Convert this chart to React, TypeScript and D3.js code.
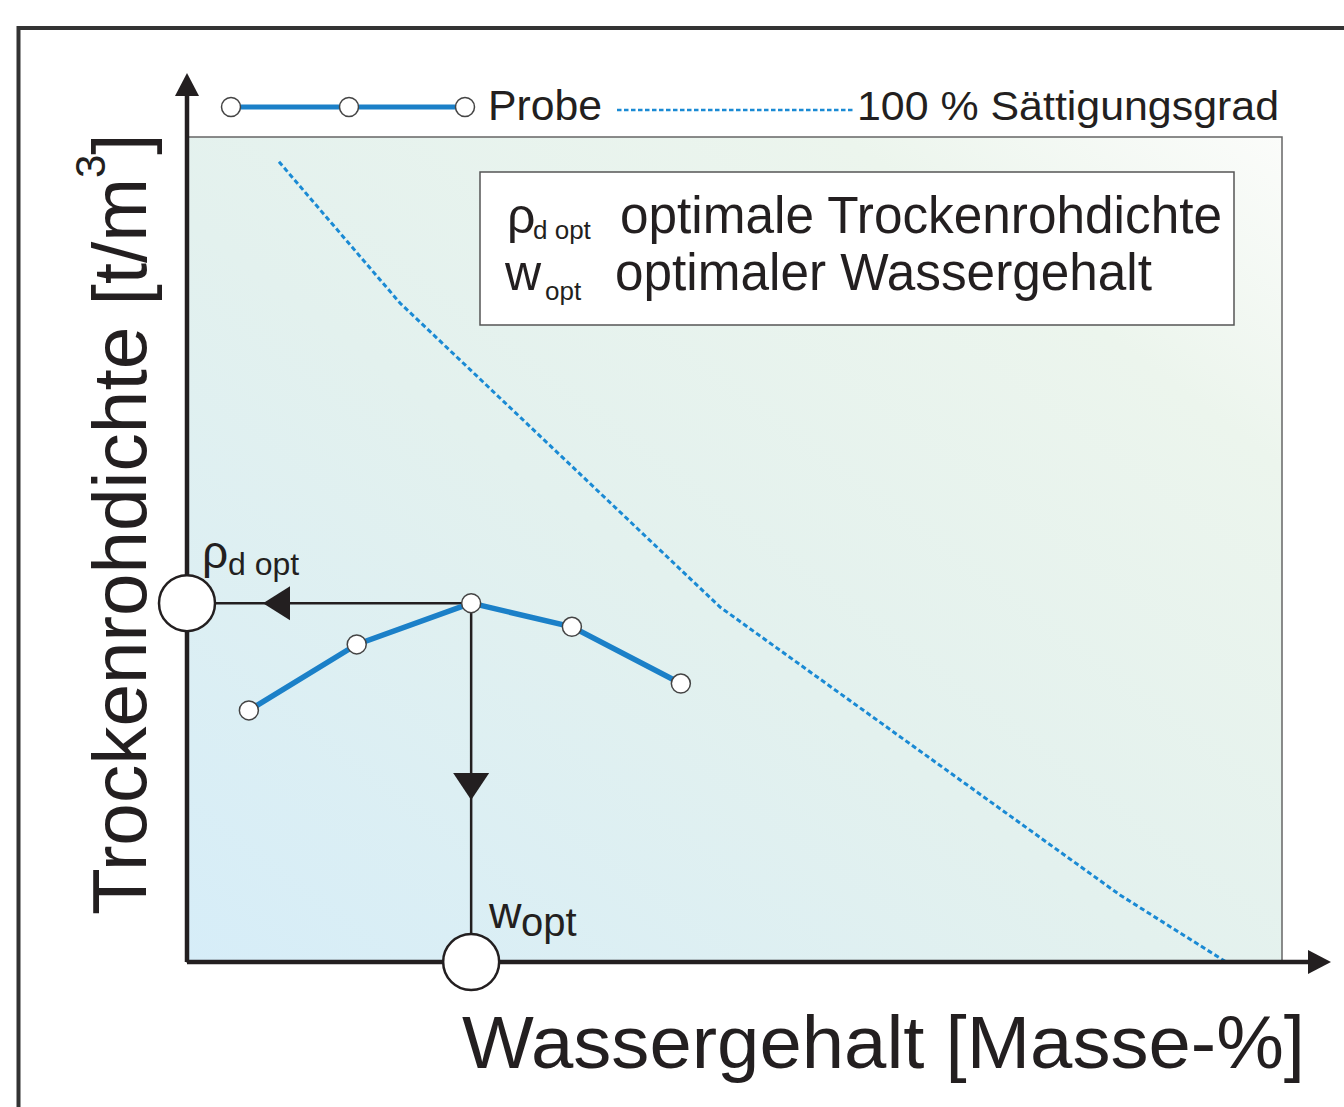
import React from 'react';
import * as d3 from 'd3';

// ---- data ----
const probeWater = [1.13, 3.1, 5.19, 7.03, 9.02];
const probeDensity = [1.744, 1.808, 1.848, 1.825, 1.77];
const saturationWater = [1.68, 3.89, 9.74, 17.04, 18.98];
const saturationDensity = [2.276, 2.139, 1.844, 1.565, 1.5];
const optimum = { water: 5.19, density: 1.848 };
const xDomain = [0, 20];
const yDomain = [1.5, 2.3];
const legendLabels = ['Probe', '100 % Sättigungsgrad'];
const boxLines = [
  { sym: 'ρ', sub: 'd opt', text: 'optimale Trockenrohdichte' },
  { sym: 'w', sub: 'opt', text: 'optimaler Wassergehalt' },
];
const xTitle = 'Wassergehalt [Masse-%]';
const yTitle = 'Trockenrohdichte [t/m';

const FONT = '"Liberation Sans", Arial, Helvetica, sans-serif';
const INK = '#231f20';
const BLUE = '#1b80c8';
const DOT = '#1a8ad4';

export default function App() {
  const x = d3.scaleLinear().domain(xDomain).range([187, 1282]);
  const y = d3.scaleLinear().domain(yDomain).range([962, 137]);

  const probe = probeWater.map((w, i) => [w, probeDensity[i]] as [number, number]);
  const sat = saturationWater.map((w, i) => [w, saturationDensity[i]] as [number, number]);
  const line = d3
    .line<[number, number]>()
    .x((d) => x(d[0]))
    .y((d) => y(d[1]));

  const ox = x(optimum.water);
  const oy = y(optimum.density);
  const x0 = x(xDomain[0]);
  const y0 = y(yDomain[0]);

  return (
    <svg
      width={1344}
      height={1107}
      style={{ position: 'absolute', left: 0, top: 0, background: '#fff' }}
      fontFamily={FONT}
    >
      <defs>
        <linearGradient id="bg" x1="0" y1="1" x2="1" y2="0">
          <stop offset="0" stopColor="#d6edf8" />
          <stop offset="0.45" stopColor="#e3f1ee" />
          <stop offset="0.8" stopColor="#ecf5ed" />
          <stop offset="1" stopColor="#fbfcfa" />
        </linearGradient>
      </defs>

      {/* outer frame */}
      <path d="M18.5,1107 L18.5,28 L1344,28" fill="none" stroke="#333" strokeWidth={4} />

      {/* plot background */}
      <rect
        x={x0}
        y={y(yDomain[1])}
        width={x(xDomain[1]) - x0}
        height={y0 - y(yDomain[1])}
        fill="url(#bg)"
        stroke="#666"
        strokeWidth={1.5}
      />

      {/* saturation line */}
      <path d={line(sat) || ''} fill="none" stroke={DOT} strokeWidth={3} strokeDasharray="5 3" />

      {/* optimum guide arrows */}
      <line x1={ox} y1={oy} x2={x0 + 28} y2={oy} stroke={INK} strokeWidth={2.5} />
      <path d={`M${x0 + 76},${oy} L${x0 + 103},${oy - 17} L${x0 + 103},${oy + 17} Z`} fill={INK} />
      <line x1={ox} y1={oy} x2={ox} y2={y0 - 28} stroke={INK} strokeWidth={2.5} />
      <path d={`M${ox - 18},${773} L${ox + 18},${773} L${ox},${800} Z`} fill={INK} />

      {/* axes */}
      <line x1={x0} y1={y0} x2={x0} y2={94} stroke={INK} strokeWidth={4.5} />
      <path d={`M${x0},73 L${x0 + 12},96 L${x0 - 12},96 Z`} fill={INK} />
      <line x1={x0} y1={y0} x2={1311} y2={y0} stroke={INK} strokeWidth={4.5} />
      <path d={`M1331,${y0} L1308,${y0 - 12} L1308,${y0 + 12} Z`} fill={INK} />

      {/* probe line */}
      <path d={line(probe) || ''} fill="none" stroke={BLUE} strokeWidth={5.5} />
      {probe.map((d, i) => (
        <circle key={i} cx={x(d[0])} cy={y(d[1])} r={9.5} fill="#fff" stroke="#444" strokeWidth={1.5} />
      ))}

      {/* big optimum markers */}
      <circle cx={x0} cy={oy} r={28} fill="#fff" stroke={INK} strokeWidth={2.5} />
      <circle cx={ox} cy={y0} r={28} fill="#fff" stroke={INK} strokeWidth={2.5} />

      {/* optimum labels */}
      <text x={202} y={568} fontSize={46} fill={INK}>ρ</text>
      <text x={228} y={575} fontSize={32} fill={INK}>d opt</text>
      <text x={489} y={928} fontSize={45} fill={INK}>w</text>
      <text x={521} y={936} fontSize={40} fill={INK}>opt</text>

      {/* legend */}
      <line x1={231} y1={107} x2={465} y2={107} stroke={BLUE} strokeWidth={5} />
      {[231, 349, 465].map((cx) => (
        <circle key={cx} cx={cx} cy={107} r={9.5} fill="#fff" stroke="#444" strokeWidth={1.5} />
      ))}
      <text x={488} y={120} fontSize={42} fill={INK} textLength={114} lengthAdjust="spacingAndGlyphs">
        {legendLabels[0]}
      </text>
      <line x1={617} y1={110} x2={855} y2={110} stroke={DOT} strokeWidth={2.6} strokeDasharray="4.5 2.5" />
      <text x={857} y={120} fontSize={40} fill={INK} textLength={422} lengthAdjust="spacingAndGlyphs">
        {legendLabels[1]}
      </text>

      {/* definition box */}
      <rect x={480} y={172} width={754} height={153} fill="#fff" stroke="#555" strokeWidth={1.5} />
      <text x={507} y={233} fontSize={50} fill={INK}>{boxLines[0].sym}</text>
      <text x={533} y={239} fontSize={26} fill={INK}>{boxLines[0].sub}</text>
      <text x={620} y={233} fontSize={51} fill={INK} textLength={602} lengthAdjust="spacingAndGlyphs">
        {boxLines[0].text}
      </text>
      <text x={505} y={290} fontSize={50} fill={INK}>{boxLines[1].sym}</text>
      <text x={545} y={300} fontSize={26} fill={INK}>{boxLines[1].sub}</text>
      <text x={615} y={290} fontSize={51} fill={INK} textLength={537} lengthAdjust="spacingAndGlyphs">
        {boxLines[1].text}
      </text>

      {/* axis titles */}
      <text x={462} y={1068} fontSize={75} fill={INK} textLength={843} lengthAdjust="spacingAndGlyphs">
        {xTitle}
      </text>
      <text transform="translate(146,915) rotate(-90)" fontSize={76.5} fill={INK}>
        {yTitle}
        <tspan dy={-41} fontSize={42}>3</tspan>
        <tspan dy={41}>]</tspan>
      </text>
    </svg>
  );
}
